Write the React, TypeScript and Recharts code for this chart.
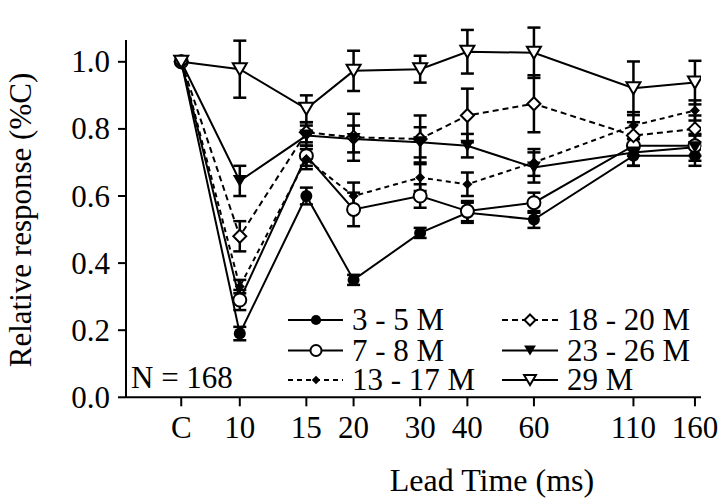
import React from 'react';
import { LineChart, Line, XAxis, YAxis, ErrorBar, Legend, Label } from 'recharts';

const FONT = '"Liberation Serif", "Times New Roman", serif';

// Lead times (ms); the control condition "C" is placed at 7 on the log axis
const leadTimes = [7, 10, 15, 20, 30, 40, 60, 110, 160];
const leadTimeLabels = ['C', '10', '15', '20', '30', '40', '60', '110', '160'];
const yTicks = [0, 0.2, 0.4, 0.6, 0.8, 1.0];

const names = ['3 - 5 M', '7 - 8 M', '13 - 17 M', '18 - 20 M', '23 - 26 M', '29 M'];

const m3_5 = [1.0, 0.19, 0.60, 0.35, 0.49, 0.55, 0.53, 0.72, 0.72];
const e3_5 = [null, 0.02, 0.025, 0.015, 0.015, 0.03, 0.025, 0.03, 0.03];
const m7_8 = [1.0, 0.29, 0.72, 0.56, 0.60, 0.555, 0.58, 0.75, 0.75];
const e7_8 = [null, 0.03, 0.03, 0.05, 0.035, 0.03, 0.03, 0.03, 0.03];
const m13_17 = [1.0, 0.33, 0.71, 0.60, 0.655, 0.635, 0.70, 0.81, 0.855];
const e13_17 = [null, 0.02, 0.03, 0.04, 0.04, 0.035, 0.04, 0.04, 0.03];
const m18_20 = [1.0, 0.48, 0.79, 0.775, 0.77, 0.84, 0.875, 0.78, 0.80];
const e18_20 = [null, 0.045, 0.03, 0.07, 0.07, 0.08, 0.085, 0.04, 0.04];
const m23_26 = [1.0, 0.645, 0.78, 0.77, 0.76, 0.75, 0.685, 0.73, 0.745];
const e23_26 = [null, 0.045, 0.03, 0.04, 0.045, 0.035, 0.045, 0.04, 0.04];
const m29 = [1.0, 0.978, 0.86, 0.973, 0.978, 1.03, 1.027, 0.921, 0.938];
const e29 = [null, 0.085, 0.04, 0.06, 0.04, 0.065, 0.075, 0.08, 0.065];

type Kind = 'filledCircle' | 'openCircle' | 'filledDiamond' | 'openDiamond' | 'filledTri' | 'openTri';

const seriesDefs: { name: string; vals: number[]; errs: (number | null)[]; kind: Kind; dash?: string }[] = [
  { name: names[0], vals: m3_5, errs: e3_5, kind: 'filledCircle' },
  { name: names[1], vals: m7_8, errs: e7_8, kind: 'openCircle' },
  { name: names[2], vals: m13_17, errs: e13_17, kind: 'filledDiamond', dash: '5 4' },
  { name: names[3], vals: m18_20, errs: e18_20, kind: 'openDiamond', dash: '6 4' },
  { name: names[4], vals: m23_26, errs: e23_26, kind: 'filledTri' },
  { name: names[5], vals: m29, errs: e29, kind: 'openTri' },
];

const makeData = (vals: number[], errs: (number | null)[]) =>
  leadTimes.map((x, i) => ({ x, y: vals[i], e: errs[i] }));

function Marker({ kind, cx, cy, s = 1 }: { kind: Kind; cx: number; cy: number; s?: number }) {
  if (cx == null || cy == null) return null;
  switch (kind) {
    case 'filledCircle':
      return <circle cx={cx} cy={cy} r={6 * s} fill="#000" />;
    case 'openCircle':
      return <circle cx={cx} cy={cy} r={6.5 * s} fill="#fff" stroke="#000" strokeWidth={2} />;
    case 'filledDiamond': {
      const h = 5 * s;
      return <polygon points={`${cx},${cy - h} ${cx + h},${cy} ${cx},${cy + h} ${cx - h},${cy}`} fill="#000" />;
    }
    case 'openDiamond': {
      const h = 6.5 * s;
      return (
        <polygon points={`${cx},${cy - h} ${cx + h},${cy} ${cx},${cy + h} ${cx - h},${cy}`} fill="#fff" stroke="#000" strokeWidth={2} />
      );
    }
    case 'filledTri': {
      const w = 7 * s, h = 6 * s;
      return <polygon points={`${cx - w},${cy - h} ${cx + w},${cy - h} ${cx},${cy + h}`} fill="#000" />;
    }
    case 'openTri': {
      const w = 7 * s, h = 6 * s;
      return (
        <polygon points={`${cx - w},${cy - h} ${cx + w},${cy - h} ${cx},${cy + h}`} fill="#fff" stroke="#000" strokeWidth={2} />
      );
    }
  }
  return null;
}

const XTick = (props: any) => {
  const { x, y, payload } = props;
  const idx = leadTimes.indexOf(payload.value);
  return (
    <text x={x} y={y} dy={30} textAnchor="middle" fontSize={31} fontFamily={FONT} fill="#000">
      {idx >= 0 ? leadTimeLabels[idx] : payload.value}
    </text>
  );
};

const YTick = (props: any) => {
  const { x, y, payload } = props;
  return (
    <text x={x - 6} y={y} dy={10.5} textAnchor="end" fontSize={31} fontFamily={FONT} fill="#000">
      {Number(payload.value).toFixed(1)}
    </text>
  );
};

const XTitle = () => (
  <text x={492} y={491} textAnchor="middle" fontSize={32} fontFamily={FONT} fill="#000">
    Lead Time (ms)
  </text>
);

const YTitle = () => (
  <text transform="rotate(-90)" x={-220} y={31} textAnchor="middle" fontSize={31} fontFamily={FONT} fill="#000">
    Relative response (%C)
  </text>
);

const rowsY = [320, 350.5, 380];
const colLine = [
  [288, 343],
  [502, 558],
];
const colMarker = [316, 530];
const colText = [352, 567];

const LegendContent = () => (
  <svg width={718} height={498} style={{ position: 'absolute', left: 0, top: 0, overflow: 'visible' }}>
    <text x={131} y={388} fontSize={31} fontFamily={FONT} fill="#000">
      N = 168
    </text>
    {seriesDefs.map((s, i) => {
      const col = i < 3 ? 0 : 1;
      const row = i % 3;
      const cy = rowsY[row];
      return (
        <g key={s.name}>
          <line
            x1={colLine[col][0]}
            x2={colLine[col][1]}
            y1={cy}
            y2={cy}
            stroke="#000"
            strokeWidth={2}
            strokeDasharray={s.dash}
          />
          <Marker kind={s.kind} cx={colMarker[col]} cy={cy} s={0.85} />
          <text x={colText[col]} y={cy + 10.3} fontSize={31} fontFamily={FONT} fill="#000">
            {s.name}
          </text>
        </g>
      );
    })}
  </svg>
);

export default function App() {
  return (
    <div style={{ position: 'absolute', left: 0, top: 0, width: 718, height: 498, background: '#fff' }}>
      <LineChart width={718} height={498} margin={{ top: 40, right: 17, bottom: 0, left: 0 }}>
        <XAxis
          type="number"
          dataKey="x"
          scale="log"
          domain={[5, 166]}
          ticks={leadTimes}
          allowDataOverflow
          interval={0}
          tick={<XTick />}
          tickSize={9}
          stroke="#000"
          strokeWidth={2}
          height={100.7}
        >
          <Label content={<XTitle />} />
        </XAxis>
        <YAxis
          type="number"
          domain={[0, 1.065]}
          ticks={yTicks}
          allowDataOverflow
          width={126}
          tickSize={8}
          tick={<YTick />}
          stroke="#000"
          strokeWidth={2}
        >
          <Label content={<YTitle />} />
        </YAxis>
        {seriesDefs.map((s) => (
          <Line
            key={s.name}
            name={s.name}
            data={makeData(s.vals, s.errs)}
            dataKey="y"
            type="linear"
            stroke="#000"
            strokeWidth={2}
            strokeDasharray={s.dash}
            isAnimationActive={false}
            activeDot={false}
            dot={(p: any) => <Marker key={`${s.name}-${p.index}`} kind={s.kind} cx={p.cx} cy={p.cy} />}
          >
            <ErrorBar dataKey="e" direction="y" width={6.5} stroke="#000" strokeWidth={2.5} isAnimationActive={false} />
          </Line>
        ))}
        <Legend
          layout="vertical"
          align="center"
          verticalAlign="middle"
          wrapperStyle={{ left: 0, top: 0, width: 718, height: 498, pointerEvents: 'none' }}
          content={<LegendContent />}
        />
      </LineChart>
    </div>
  );
}
